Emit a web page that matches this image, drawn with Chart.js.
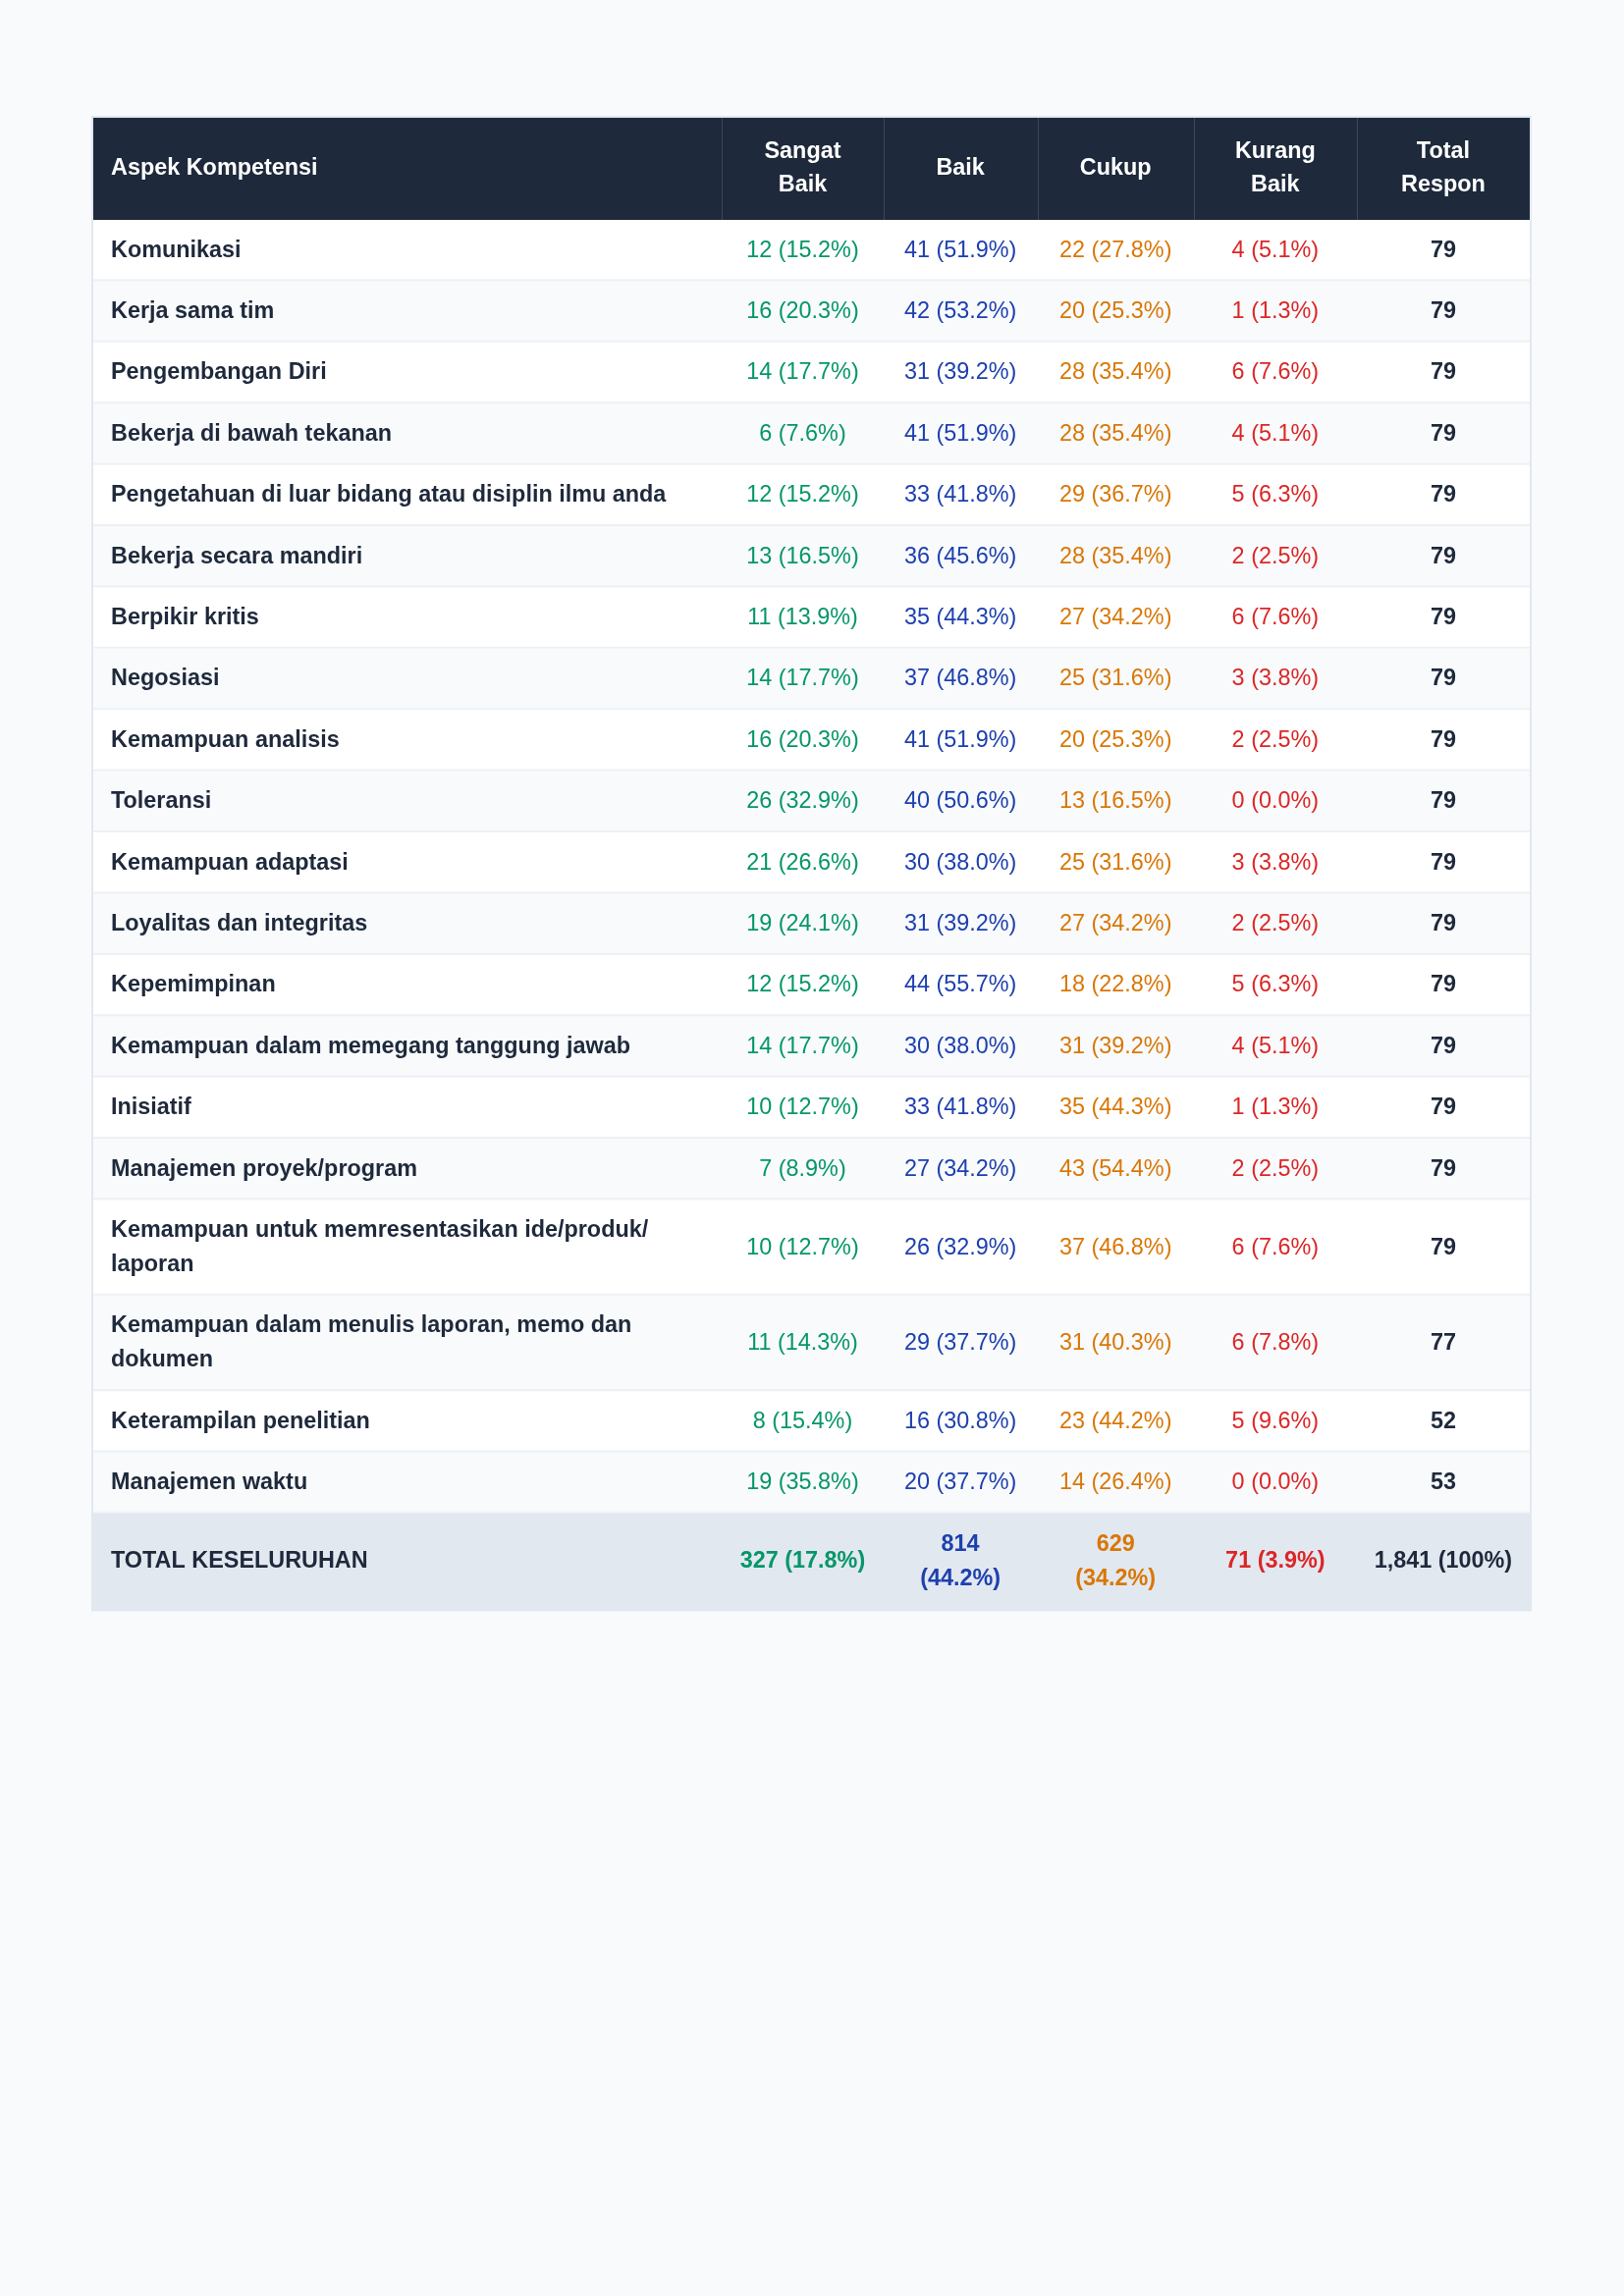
<!DOCTYPE html>
<html lang="id">
<head>
<meta charset="utf-8">
<title>Aspek Kompetensi</title>
<script src="https://cdn.jsdelivr.net/npm/chart.js@4.4.1/dist/chart.umd.min.js"></script>
<style>
    html, body { margin: 0; padding: 0; background: #f8fafc; }
    canvas { display: block; }
</style>
</head>
<body>
<canvas id="kompetensi-table" width="1654" height="2339"></canvas>
<script>
// Data
const headers = ['Aspek Kompetensi', 'Sangat Baik', 'Baik', 'Cukup', 'Kurang Baik', 'Total Respon'];

const aspects = [
    'Komunikasi',
    'Kerja sama tim',
    'Pengembangan Diri',
    'Bekerja di bawah tekanan',
    'Pengetahuan di luar bidang atau disiplin ilmu anda',
    'Bekerja secara mandiri',
    'Berpikir kritis',
    'Negosiasi',
    'Kemampuan analisis',
    'Toleransi',
    'Kemampuan adaptasi',
    'Loyalitas dan integritas',
    'Kepemimpinan',
    'Kemampuan dalam memegang tanggung jawab',
    'Inisiatif',
    'Manajemen proyek/program',
    'Kemampuan untuk memresentasikan ide/produk/laporan',
    'Kemampuan dalam menulis laporan, memo dan dokumen',
    'Keterampilan penelitian',
    'Manajemen waktu'
];

const sangatBaik = [12, 16, 14, 6, 12, 13, 11, 14, 16, 26, 21, 19, 12, 14, 10, 7, 10, 11, 8, 19];
const baik       = [41, 42, 31, 41, 33, 36, 35, 37, 41, 40, 30, 31, 44, 30, 33, 27, 26, 29, 16, 20];
const cukup      = [22, 20, 28, 28, 29, 28, 27, 25, 20, 13, 25, 27, 18, 31, 35, 43, 37, 31, 23, 14];
const kurangBaik = [4, 1, 6, 4, 5, 2, 6, 3, 2, 0, 3, 2, 5, 4, 1, 2, 6, 6, 5, 0];
const totalRespon = [79, 79, 79, 79, 79, 79, 79, 79, 79, 79, 79, 79, 79, 79, 79, 79, 79, 77, 52, 53];

const overallLabel = 'TOTAL KESELURUHAN';
const overallCounts = [327, 814, 629, 71];
const overallTotal = 1841;

// Layout / style
const colWidths = [640, 164, 157, 159, 166, 176];
const seriesColors = ['#059669', '#1e40af', '#d97706', '#dc2626'];
const FONT = '"Liberation Sans", Arial, Helvetica, sans-serif';
const FONT_SIZE = 23.4;
const PAD_X = 17;
const TEXT_LEFT = 18;
const LINE_H = 35;
const PAD_Y = 13.7;
const HEAD_LINE_H = 34;
const HEAD_PAD_Y = 18;

function pct(v, total) {
    return v + ' (' + (v / total * 100).toFixed(1) + '%)';
}

// wrap on spaces, and after a slash like a browser does
function wrapText(ctx, text, maxW) {
    const parts = [];
    text.split(' ').forEach(w => {
        const segs = w.match(/[^\/]+\/?|\//g) || [w];
        segs.forEach((s, i) => parts.push({ t: s, sp: i === 0 }));
    });
    const lines = [];
    let cur = '';
    parts.forEach(p => {
        const cand = cur ? cur + (p.sp ? ' ' : '') + p.t : p.t;
        if (cur && ctx.measureText(cand).width > maxW) {
            lines.push(cur);
            cur = p.t;
        } else {
            cur = cand;
        }
    });
    if (cur) {lines.push(cur);}
    return lines;
}

const tablePlugin = {
    id: 'kompetensiTable',
    afterDraw(chart) {
        const ctx = chart.ctx;
        const area = chart.chartArea;
        const sumW = colWidths.reduce((a, b) => a + b, 0);
        const cols = [];
        let cx = area.left;
        colWidths.forEach(w => {
            const cw = w / sumW * (area.right - area.left);
            cols.push({ x: cx, w: cw });
            cx += cw;
        });
        const tableW = area.right - area.left;

        // build rows: each cell {text, color, bold, align}
        const rows = [];
        rows.push({
            type: 'head',
            cells: headers.map((h, i) => ({ text: h, color: '#ffffff', bold: true, align: i === 0 ? 'left' : 'center' }))
        });
        aspects.forEach((a, r) => {
            const vals = [sangatBaik[r], baik[r], cukup[r], kurangBaik[r]];
            const cells = [{ text: a, color: '#1e293b', bold: true, align: 'left' }];
            vals.forEach((v, k) => cells.push({ text: pct(v, totalRespon[r]), color: seriesColors[k], bold: false, align: 'center' }));
            cells.push({ text: String(totalRespon[r]), color: '#1e293b', bold: true, align: 'center' });
            rows.push({ type: r % 2 === 0 ? 'odd' : 'even', cells });
        });
        const totCells = [{ text: overallLabel, color: '#1e293b', bold: true, align: 'left' }];
        overallCounts.forEach((v, k) => totCells.push({ text: pct(v, overallTotal), color: seriesColors[k], bold: true, align: 'center' }));
        totCells.push({ text: overallTotal.toLocaleString('en-US') + ' (100%)', color: '#1e293b', bold: true, align: 'center' });
        rows.push({ type: 'total', cells: totCells });

        // measure
        rows.forEach(row => {
            let maxLines = 1;
            row.cells.forEach((c, i) => {
                ctx.font = (c.bold ? 'bold ' : '') + FONT_SIZE + 'px ' + FONT;
                c.lines = wrapText(ctx, c.text, cols[i].w - PAD_X * 2);
                maxLines = Math.max(maxLines, c.lines.length);
            });
            const lh = row.type === 'head' ? HEAD_LINE_H : LINE_H;
            const py = row.type === 'head' ? HEAD_PAD_Y : PAD_Y;
            row.lh = lh;
            row.h = maxLines * lh + py * 2;
        });
        const tableH = rows.reduce((a, r) => a + r.h, 0);

        ctx.save();
        // outer border
        ctx.fillStyle = '#e2e8f0';
        ctx.fillRect(area.left - 2, area.top - 2, tableW + 4, tableH + 4);

        let y = area.top;
        rows.forEach(row => {
            const bg = row.type === 'head' ? '#1e293b'
                : row.type === 'total' ? '#e2e8f0'
                : row.type === 'even' ? '#f8fafc' : '#ffffff';
            ctx.fillStyle = bg;
            ctx.fillRect(area.left, y, tableW, row.h);

            if (row.type === 'head') {
                ctx.strokeStyle = '#3b4759';
                ctx.lineWidth = 1;
                for (let i = 1; i < cols.length; i++) {
                    ctx.beginPath();
                    ctx.moveTo(Math.round(cols[i].x) + 0.5, y);
                    ctx.lineTo(Math.round(cols[i].x) + 0.5, y + row.h);
                    ctx.stroke();
                }
            } else if (row.type !== 'total') {
                ctx.fillStyle = '#edf1f5';
                ctx.fillRect(area.left, y + row.h - 2, tableW, 2);
            }

            const mid = y + row.h / 2;
            row.cells.forEach((c, i) => {
                ctx.font = (c.bold ? 'bold ' : '') + FONT_SIZE + 'px ' + FONT;
                ctx.fillStyle = c.color;
                ctx.textBaseline = 'middle';
                ctx.textAlign = c.align;
                const tx = c.align === 'left' ? cols[i].x + TEXT_LEFT : cols[i].x + cols[i].w / 2;
                const first = mid - (c.lines.length - 1) * row.lh / 2;
                c.lines.forEach((ln, j) => ctx.fillText(ln, tx, first + j * row.lh));
            });
            y += row.h;
        });
        ctx.restore();
    }
};

const canvas = document.getElementById('kompetensi-table');
const chart = new Chart(canvas.getContext('2d'), {
    type: 'scatter',
    data: { datasets: [] },
    options: {
        responsive: false,
        animation: false,
        devicePixelRatio: 1,
        layout: { padding: { left: 95, right: 96, top: 120, bottom: 600 } },
        scales: {
            x: { display: false },
            y: { display: false }
        },
        plugins: {
            legend: { display: false },
            tooltip: { enabled: false }
        }
    },
    plugins: [tablePlugin]
});
</script>
</body>
</html>
